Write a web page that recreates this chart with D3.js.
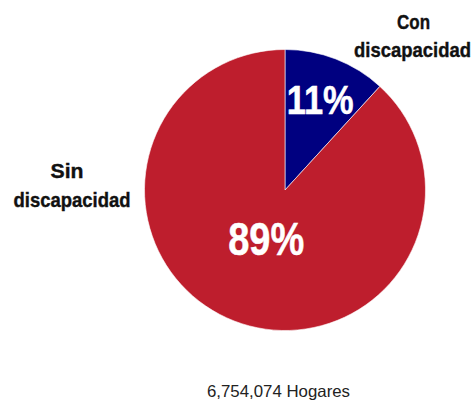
<!DOCTYPE html>
<html>
<head>
<meta charset="utf-8">
<script src="https://cdn.jsdelivr.net/npm/d3@7"></script>
<style>
  html, body { margin: 0; padding: 0; background: #fff; }
  svg text { font-family: "Liberation Sans", Arial, sans-serif; }
</style>
</head>
<body>
<svg id="svg_pie" width="474" height="401"></svg>
<script>
// Data
var categories = ["Con discapacidad", "Sin discapacidad"];
var shares = [11.8, 88.2];
var shareLabels = ["11%", "89%"];
var nameLines = [["Con", "discapacidad"], ["Sin", "discapacidad"]];
var totalLabel = "6,754,074 Hogares";

var svg_pie = d3.select("#svg_pie"),
    cx = 285, cy = 190, radius = 140.5,
    g_pie = svg_pie.append("g").attr("transform", "translate(" + cx + "," + cy + ")");

var color_pie = d3.scaleOrdinal()
    .domain(categories)
    .range(["#000080", "#BE1E2D"]);

var pie = d3.pie().sort(null).value(function(d) { return d; });
var arc = d3.arc().innerRadius(0).outerRadius(radius);
var arcs = pie(shares);

g_pie.selectAll("path")
  .data(arcs)
  .enter().append("path")
    .attr("d", arc)
    .attr("fill", function(d, i) { return color_pie(categories[i]); })
    .attr("stroke", "#fff")
    .attr("stroke-width", 0.6);

// percentage labels inside the slices (narrow, like the original condensed face)
var labelRadius = [97, 52],
    labelSize = [40.5, 46],
    labelWidth = [67, 76];
g_pie.selectAll(".pct")
  .data(arcs)
  .enter().append("text")
    .attr("class", "pct")
    .attr("transform", function(d, i) {
      var c = d3.arc().innerRadius(labelRadius[i]).outerRadius(labelRadius[i]).centroid(d);
      return "translate(" + c + ")";
    })
    .attr("dy", "0.35em")
    .attr("text-anchor", "middle")
    .attr("fill", "#fff")
    .attr("stroke", "#fff")
    .attr("stroke-width", 0.5)
    .attr("textLength", function(d, i) { return labelWidth[i]; })
    .attr("lengthAdjust", "spacingAndGlyphs")
    .style("font-weight", "bold")
    .style("font-size", function(d, i) { return labelSize[i] + "px"; })
    .text(function(d, i) { return shareLabels[i]; });

// category names outside, one text per line
var namePos = [[[413.5, 29], [412.5, 57]], [[67, 178], [72, 207]]],
    nameWidth = [33, 117];
nameLines.forEach(function(lines, i) {
  svg_pie.selectAll(".name" + i)
    .data(lines)
    .enter().append("text")
      .attr("class", "name" + i)
      .attr("x", function(d, j) { return namePos[i][j][0]; })
      .attr("y", function(d, j) { return namePos[i][j][1]; })
      .attr("text-anchor", "middle")
      .attr("fill", "#111")
      .attr("stroke", "#111")
      .attr("stroke-width", 0.4)
      .attr("textLength", function(d, j) { return nameWidth[j]; })
      .attr("lengthAdjust", "spacingAndGlyphs")
      .style("font-weight", "bold")
      .style("font-size", "21px")
      .text(function(d) { return d; });
});

svg_pie.append("text")
    .attr("x", 278.5)
    .attr("y", 397)
    .attr("text-anchor", "middle")
    .attr("fill", "#222")
    .attr("textLength", 143)
    .attr("lengthAdjust", "spacingAndGlyphs")
    .style("font-size", "16.5px")
    .text(totalLabel);
</script>
</body>
</html>
